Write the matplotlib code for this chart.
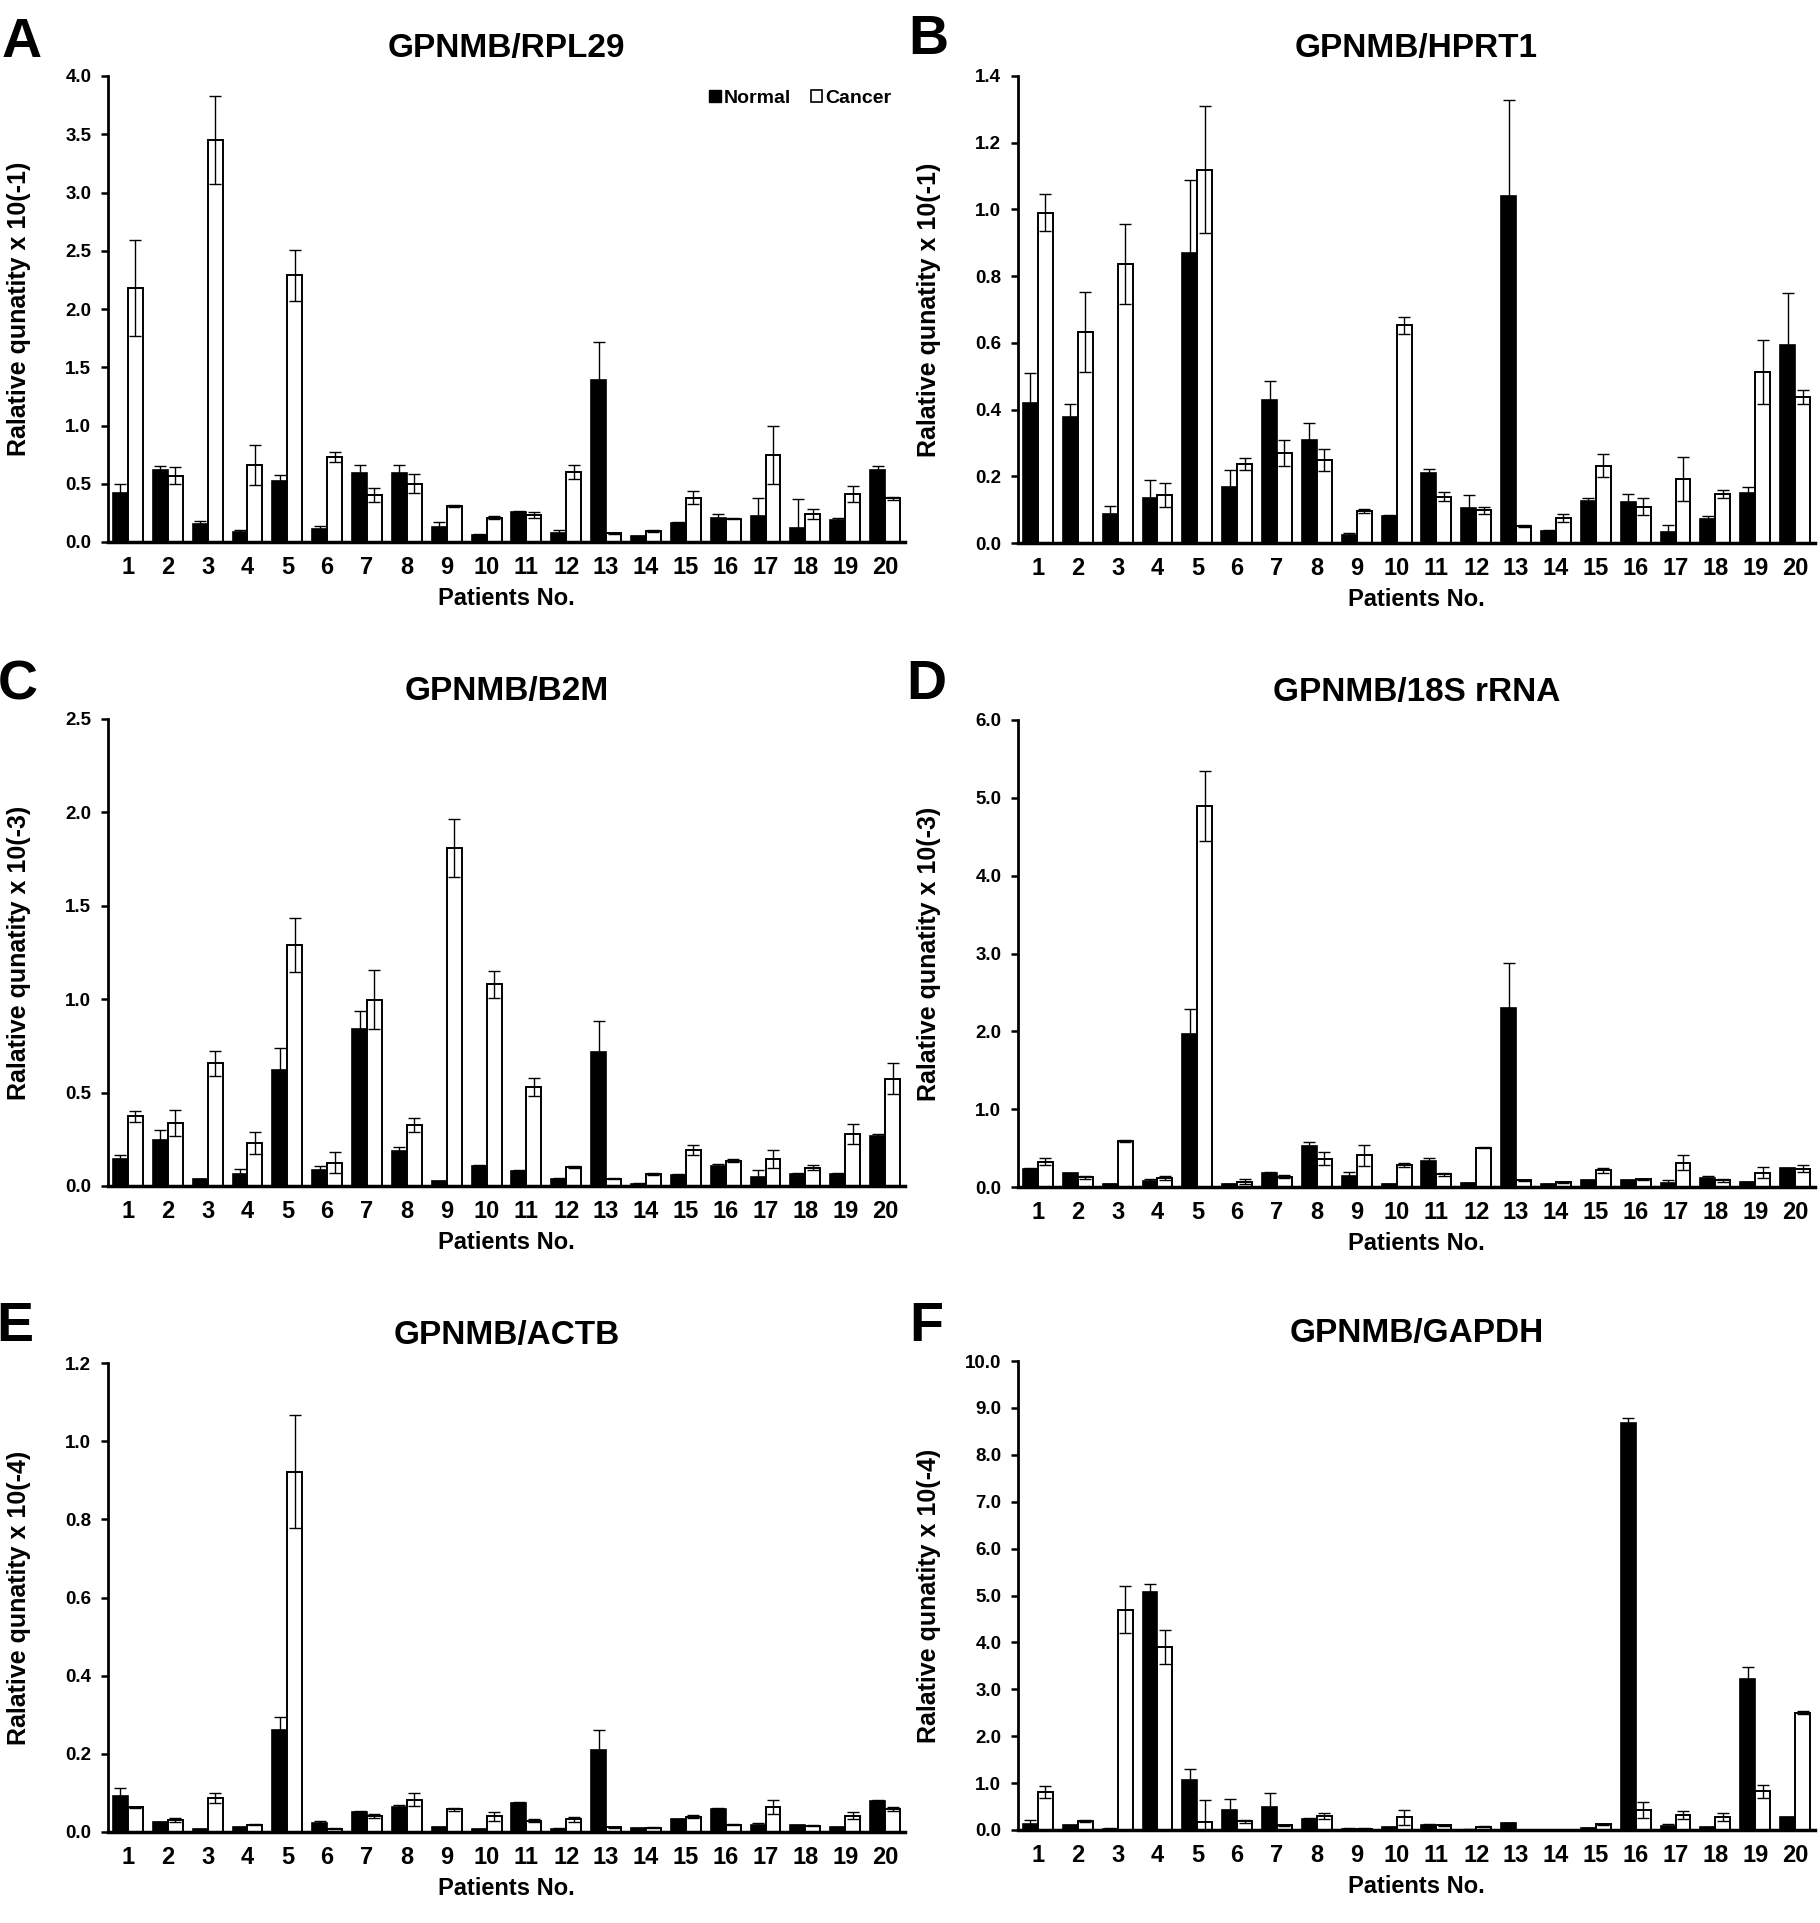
import matplotlib
matplotlib.use("Agg")
import matplotlib.pyplot as plt
import numpy as np
from matplotlib.patches import Patch
from matplotlib.ticker import FormatStrFormatter

plt.rcParams['font.family'] = ['Liberation Sans', 'DejaVu Sans']
plt.rcParams['font.weight'] = 'bold'

patients = np.arange(1, 21)

## GPNMB/RPL29  (x 10(-1))
rpl29_normal = [0.42, 0.615, 0.155, 0.087, 0.52, 0.11, 0.59, 0.59, 0.13, 0.062,
                0.26, 0.078, 1.39, 0.05, 0.165, 0.205, 0.22, 0.12, 0.185, 0.615]
rpl29_normal_err = [0.08, 0.035, 0.025, 0.02, 0.055, 0.03, 0.07, 0.07, 0.04, 0.005,
                    0.005, 0.025, 0.33, 0.003, 0.005, 0.035, 0.16, 0.25, 0.02, 0.035]
rpl29_cancer = [2.18, 0.57, 3.45, 0.66, 2.29, 0.73, 0.40, 0.50, 0.31, 0.21,
                0.23, 0.60, 0.075, 0.093, 0.38, 0.20, 0.745, 0.24, 0.41, 0.375]
rpl29_cancer_err = [0.41, 0.07, 0.38, 0.17, 0.22, 0.04, 0.06, 0.08, 0.01, 0.01,
                    0.025, 0.06, 0.003, 0.008, 0.055, 0.005, 0.25, 0.04, 0.07, 0.015]

## GPNMB/HPRT1  (x 10(-1))
hprt1_normal = [0.42, 0.377, 0.088, 0.135, 0.868, 0.168, 0.43, 0.31, 0.024, 0.081,
                0.209, 0.104, 1.039, 0.037, 0.125, 0.124, 0.033, 0.073, 0.149, 0.593]
hprt1_normal_err = [0.09, 0.04, 0.023, 0.053, 0.22, 0.052, 0.056, 0.05, 0.006, 0.002,
                    0.012, 0.04, 0.29, 0.002, 0.01, 0.023, 0.02, 0.007, 0.018, 0.157]
hprt1_cancer = [0.99, 0.633, 0.835, 0.143, 1.119, 0.236, 0.27, 0.25, 0.096, 0.653,
                0.139, 0.098, 0.05, 0.076, 0.232, 0.109, 0.192, 0.147, 0.513, 0.438]
hprt1_cancer_err = [0.055, 0.12, 0.12, 0.036, 0.19, 0.018, 0.04, 0.033, 0.005, 0.025,
                    0.013, 0.01, 0.003, 0.012, 0.034, 0.026, 0.067, 0.013, 0.096, 0.02]

## GPNMB/B2M  (x 10(-3))
b2m_normal = [0.142, 0.248, 0.035, 0.064, 0.619, 0.083, 0.839, 0.19, 0.025, 0.107,
              0.08, 0.035, 0.718, 0.012, 0.06, 0.105, 0.05, 0.062, 0.066, 0.27]
b2m_normal_err = [0.025, 0.05, 0.005, 0.027, 0.12, 0.024, 0.10, 0.02, 0.003, 0.003,
                  0.003, 0.008, 0.163, 0.002, 0.003, 0.013, 0.037, 0.008, 0.003, 0.008]
b2m_cancer = [0.373, 0.338, 0.656, 0.231, 1.29, 0.124, 0.998, 0.326, 1.811, 1.079,
              0.53, 0.103, 0.039, 0.064, 0.192, 0.136, 0.144, 0.099, 0.278, 0.575]
b2m_cancer_err = [0.03, 0.068, 0.066, 0.058, 0.145, 0.056, 0.16, 0.037, 0.155, 0.07,
                  0.047, 0.005, 0.002, 0.005, 0.028, 0.008, 0.048, 0.016, 0.054, 0.083]

## GPNMB/18S rRNA  (x 10(-3))
rrna_normal = [0.233, 0.177, 0.037, 0.079, 1.97, 0.037, 0.18, 0.521, 0.144, 0.037,
               0.33, 0.051, 2.304, 0.037, 0.088, 0.088, 0.056, 0.112, 0.065, 0.242]
rrna_normal_err = [0.014, 0.005, 0.003, 0.02, 0.32, 0.003, 0.01, 0.052, 0.046, 0.003,
                   0.037, 0.005, 0.57, 0.003, 0.005, 0.005, 0.028, 0.028, 0.003, 0.005]
rrna_cancer = [0.326, 0.126, 0.596, 0.112, 4.898, 0.07, 0.13, 0.363, 0.405, 0.279,
               0.163, 0.507, 0.084, 0.06, 0.214, 0.098, 0.312, 0.088, 0.186, 0.237]
rrna_cancer_err = [0.042, 0.02, 0.014, 0.023, 0.45, 0.033, 0.02, 0.084, 0.13, 0.028,
                   0.023, 0.005, 0.005, 0.005, 0.028, 0.005, 0.098, 0.019, 0.074, 0.047]

## GPNMB/ACTB  (x 10(-4))
actb_normal = [0.092, 0.025, 0.007, 0.012, 0.262, 0.022, 0.051, 0.065, 0.012, 0.007,
               0.074, 0.008, 0.21, 0.009, 0.032, 0.06, 0.017, 0.017, 0.012, 0.079]
actb_normal_err = [0.02, 0.001, 0.001, 0.001, 0.033, 0.005, 0.002, 0.005, 0.001, 0.001,
                   0.002, 0.001, 0.05, 0.001, 0.001, 0.001, 0.005, 0.001, 0.001, 0.002]
actb_cancer = [0.063, 0.031, 0.086, 0.019, 0.922, 0.008, 0.04, 0.083, 0.058, 0.04,
               0.029, 0.032, 0.012, 0.011, 0.039, 0.019, 0.065, 0.016, 0.042, 0.059]
actb_cancer_err = [0.002, 0.006, 0.013, 0.002, 0.144, 0.001, 0.005, 0.016, 0.004, 0.011,
                   0.003, 0.006, 0.002, 0.001, 0.004, 0.002, 0.018, 0.001, 0.009, 0.004]

## GPNMB/GAPDH  (x 10(-4))
gapdh_normal = [0.13, 0.105, 0.03, 5.07, 1.075, 0.43, 0.49, 0.243, 0.03, 0.057,
                0.113, 0.01, 0.146, 0.0, 0.04, 8.67, 0.09, 0.057, 3.23, 0.27]
gapdh_normal_err = [0.08, 0.01, 0.005, 0.17, 0.23, 0.24, 0.3, 0.02, 0.005, 0.005,
                    0.005, 0.005, 0.005, 0.0, 0.005, 0.11, 0.03, 0.005, 0.24, 0.015]
gapdh_cancer = [0.81, 0.186, 4.70, 3.905, 0.17, 0.186, 0.097, 0.30, 0.03, 0.27,
                0.105, 0.073, 0.0, 0.0, 0.12, 0.42, 0.315, 0.275, 0.83, 2.50]
gapdh_cancer_err = [0.13, 0.02, 0.5, 0.37, 0.47, 0.03, 0.01, 0.06, 0.005, 0.16,
                    0.01, 0.005, 0.0, 0.0, 0.01, 0.17, 0.08, 0.09, 0.14, 0.03]

titles = ["GPNMB/RPL29", "GPNMB/HPRT1", "GPNMB/B2M",
          "GPNMB/18S rRNA", "GPNMB/ACTB", "GPNMB/GAPDH"]
letters = ["A", "B", "C", "D", "E", "F"]
ylabels = ["Ralative qunatity x 10(-1)", "Ralative qunatity x 10(-1)",
           "Ralative qunatity x 10(-3)", "Ralative qunatity x 10(-3)",
           "Ralative qunatity x 10(-4)", "Ralative qunatity x 10(-4)"]
ymaxes = [4.0, 1.4, 2.5, 6.0, 1.2, 10.0]
ysteps = [0.5, 0.2, 0.5, 1.0, 0.2, 1.0]

series = [(rpl29_normal, rpl29_normal_err, rpl29_cancer, rpl29_cancer_err),
          (hprt1_normal, hprt1_normal_err, hprt1_cancer, hprt1_cancer_err),
          (b2m_normal, b2m_normal_err, b2m_cancer, b2m_cancer_err),
          (rrna_normal, rrna_normal_err, rrna_cancer, rrna_cancer_err),
          (actb_normal, actb_normal_err, actb_cancer, actb_cancer_err),
          (gapdh_normal, gapdh_normal_err, gapdh_cancer, gapdh_cancer_err)]

W, H = 1820.0, 1923.0
fig = plt.figure(figsize=(W / 100, H / 100), dpi=100)

## axes boxes in pixels: left, top, right, bottom
boxes = [(108, 76, 905, 542), (1018, 76, 1815, 543),
         (108, 719, 905, 1186), (1018, 720, 1815, 1187),
         (108, 1363, 905, 1832), (1018, 1361, 1815, 1830)]
letter_pos = [(22, 43), (928, 40), (18, 685), (926, 685), (15, 1327), (926, 1327)]

bw = 0.375
for k in range(6):
    l, t, r, b = boxes[k]
    ax = fig.add_axes([l / W, 1 - b / H, (r - l) / W, (b - t) / H])
    nrm, nrm_e, cnc, cnc_e = series[k]

    ax.bar(patients - bw / 2, nrm, bw, color="black", edgecolor="black",
           linewidth=1.2, zorder=2)
    ax.bar(patients + bw / 2, cnc, bw, color="white", edgecolor="black",
           linewidth=1.4, zorder=2)
    ax.errorbar(patients - bw / 2, nrm, yerr=nrm_e, fmt="none", ecolor="black",
                elinewidth=1.0, capsize=4, capthick=1.0, zorder=3)
    ax.errorbar(patients + bw / 2, cnc, yerr=cnc_e, fmt="none", ecolor="black",
                elinewidth=1.0, capsize=4, capthick=1.0, zorder=3)

    ax.set_xlim(0.5, 20.5)
    ax.set_ylim(0, ymaxes[k])
    ax.set_yticks(np.arange(0, ymaxes[k] + 1e-9, ysteps[k]))
    ax.yaxis.set_major_formatter(FormatStrFormatter("%.1f"))
    ax.set_xticks(patients)
    ax.set_xticklabels([str(p) for p in patients])

    for s in ["top", "right"]:
        ax.spines[s].set_visible(False)
    ax.spines["left"].set_linewidth(2.0)
    ax.spines["bottom"].set_linewidth(2.5)
    ax.tick_params(axis="x", length=0, pad=10, labelsize=17)
    ax.tick_params(axis="y", direction="out", length=5, width=1.8,
                   pad=7, labelsize=13.5)

    ax.set_ylabel(ylabels[k], fontsize=18, fontweight="bold")
    ax.yaxis.set_label_coords(-0.097, 0.5)
    ax.set_xlabel("Patients No.", fontsize=17, fontweight="bold", labelpad=6)
    ax.text(0.5, 1.058, titles[k], transform=ax.transAxes, ha="center",
            va="center", fontsize=24, fontweight="bold")

    fig.text(letter_pos[k][0] / W, 1 - letter_pos[k][1] / H, letters[k],
             ha="center", va="center", fontsize=40, fontweight="bold")

    if k == 0:
        handles = [Patch(facecolor="black", edgecolor="black", label="Normal"),
                   Patch(facecolor="white", edgecolor="black", linewidth=1.2,
                         label="Cancer")]
        ax.legend(handles=handles, loc="upper right", bbox_to_anchor=(1.0, 1.0),
                  ncol=2, frameon=False, fontsize=14, handlelength=0.6,
                  handleheight=0.6, handletextpad=0.15, columnspacing=1.0,
                  borderaxespad=0.3)

fig.savefig("out.png", dpi=100)
